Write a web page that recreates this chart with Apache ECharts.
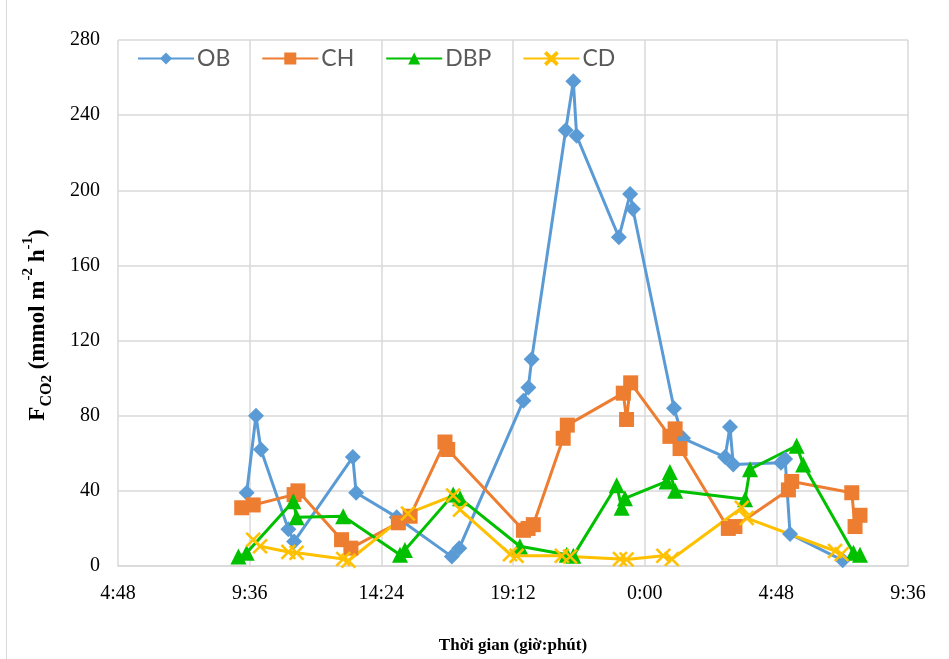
<!DOCTYPE html>
<html>
<head>
<meta charset="utf-8">
<script src="https://cdn.jsdelivr.net/npm/echarts@6/dist/echarts.min.js"></script>
<style>
  html, body { margin: 0; padding: 0; background: #fff; }
  #chart { width: 949px; height: 659px; }
</style>
</head>
<body>
<div id="chart"></div>
<script>
// Time in hours from midnight of day 1 (values > 24 are next day)
const obTime  = [9.49, 9.83, 10.01, 11.01, 11.22, 13.36, 13.48, 14.96, 16.97, 17.24, 19.58, 19.76, 19.88, 21.12, 21.40, 21.52, 23.06, 23.47, 23.57, 25.07, 25.40, 26.93, 27.11, 27.23, 28.97, 29.12, 29.30, 31.22];
const obValue = [39, 80, 62, 19.5, 13, 58, 39, 26, 5, 9.5, 88, 95, 110, 232, 258, 229, 175, 198, 190, 84, 68, 58, 74, 54, 55, 57, 17, 3];

const chTime  = [9.31, 9.73, 11.22, 11.36, 12.95, 13.29, 15.02, 15.45, 16.72, 16.82, 19.58, 19.75, 19.94, 21.03, 21.18, 23.22, 23.34, 23.49, 24.92, 25.11, 25.29, 27.05, 27.29, 29.24, 29.36, 31.55, 31.67, 31.85];
const chValue = [31, 32.5, 38, 40, 14, 9.5, 23, 26.5, 66, 62, 19, 20, 22, 68, 75, 92, 78, 97.5, 69, 73, 62.5, 20, 21, 40.5, 45, 39, 21, 27];

const dbpTime  = [9.19, 9.49, 11.19, 11.31, 13.01, 15.08, 15.26, 17.02, 17.27, 19.45, 21.16, 21.40, 22.98, 23.16, 23.28, 24.80, 24.92, 25.11, 27.66, 27.84, 29.54, 29.78, 31.61, 31.85];
const dbpValue = [5, 7, 34.5, 26, 26.5, 6, 8.5, 38, 36, 10.5, 6, 5.4, 43, 31, 36, 45, 50, 40, 35.5, 51.5, 64, 54, 7, 6];

const cdTime  = [9.73, 9.98, 11.01, 11.31, 13.01, 13.20, 15.37, 17.02, 17.27, 19.09, 19.33, 20.98, 21.28, 23.10, 23.34, 24.68, 24.99, 27.54, 27.72, 30.94, 31.18];
const cdValue = [14, 10.5, 7.5, 7, 3.7, 2.8, 28, 37.5, 30, 6.3, 5.4, 5.4, 5, 3.7, 3.5, 5.4, 3.7, 31, 25.5, 8, 6.3];

const seriesNames = ['OB', 'CH', 'DBP', 'CD'];
const xTickMinutes = { min: 288, max: 2016, step: 288 };
const yTicks = { min: 0, max: 280, step: 40 };

function pairs(t, v) { return t.map((h, i) => [h * 60, v[i]]); }
function fmtTime(m) {
  const mm = Math.round(m);
  const h = Math.floor(mm / 60) % 24;
  const mi = mm % 60;
  return h + ':' + (mi < 10 ? '0' : '') + mi;
}

const crossPath = 'path://M0,1 L1,0 L5,4 L9,0 L10,1 L6,5 L10,9 L9,10 L5,6 L1,10 L0,9 L4,5 Z';
const serif = '"Liberation Serif", "Times New Roman", serif';

const chart = echarts.init(document.getElementById('chart'), null, { renderer: 'canvas' });

function lineSeries(name, data, color, symbol, size) {
  return {
    name, type: 'line', data,
    symbol, symbolSize: size,
    showAllSymbol: true,
    lineStyle: { color, width: 3 },
    itemStyle: { color, borderColor: color, borderWidth: symbol === crossPath ? 0.6 : 0 },
    emphasis: { disabled: true },
    animation: false
  };
}

chart.setOption({
  backgroundColor: '#ffffff',
  animation: false,
  graphic: [{
    type: 'line', shape: { x1: 6.5, y1: 0, x2: 6.5, y2: 659 },
    style: { stroke: '#d9d9d9', lineWidth: 1 }
  }],
  grid: { left: 118, right: 41, top: 40, bottom: 87, containLabel: false },
  legend: {
    data: seriesNames,
    left: 132, top: 42,
    itemWidth: 56, itemHeight: 15, itemGap: 31,
    textStyle: { fontFamily: 'Lato, "Open Sans", sans-serif', fontSize: 23, color: '#595959', padding: [0, 0, 0, -2] }
  },
  xAxis: {
    type: 'value',
    min: xTickMinutes.min, max: xTickMinutes.max, interval: xTickMinutes.step,
    axisLine: { show: true, lineStyle: { color: '#d9d9d9', width: 1.5 } },
    axisTick: { show: false },
    splitLine: { show: true, lineStyle: { color: '#d9d9d9', width: 1.5 } },
    axisLabel: {
      formatter: v => fmtTime(v),
      fontFamily: serif, fontSize: 20, color: '#000', margin: 18
    },
    name: 'Thời gian (giờ:phút)',
    nameLocation: 'middle', nameGap: 71,
    nameTextStyle: { fontFamily: serif, fontSize: 17, fontWeight: 'bold', color: '#000' }
  },
  yAxis: {
    type: 'value',
    min: yTicks.min, max: yTicks.max, interval: yTicks.step,
    axisLine: { show: false },
    axisTick: { show: false },
    splitLine: { show: true, lineStyle: { color: '#d9d9d9', width: 1.5 } },
    axisLabel: { fontFamily: serif, fontSize: 20, color: '#000', margin: 18 },
    name: '{b|F}{sub|CO}{sub2|2}{b| (mmol m}{sup|-2}{b| h}{sup|-1}{b|)}',
    nameLocation: 'middle', nameGap: 63, nameRotate: 90,
    nameTextStyle: {
      padding: [0, 44, 0, 0],
      rich: {
        b: { fontFamily: serif, fontSize: 23, fontWeight: 'bold', color: '#000', lineHeight: 34, verticalAlign: 'middle' },
        sub: { fontFamily: serif, fontSize: 16, fontWeight: 'bold', color: '#000', lineHeight: 16, verticalAlign: 'bottom' },
        sub2: { fontFamily: serif, fontSize: 15, fontWeight: 'bold', color: '#000', lineHeight: 14, verticalAlign: 'bottom' },
        sup: { fontFamily: serif, fontSize: 15, fontWeight: 'bold', color: '#000', lineHeight: 16, verticalAlign: 'top' }
      }
    }
  },
  series: [
    lineSeries('OB', pairs(obTime, obValue), '#5B9BD5', 'diamond', 16),
    lineSeries('CH', pairs(chTime, chValue), '#ED7D31', 'rect', 15),
    lineSeries('DBP', pairs(dbpTime, dbpValue), '#00C000', 'triangle', 16),
    lineSeries('CD', pairs(cdTime, cdValue), '#FFC000', crossPath, 15)
  ]
});
</script>
</body>
</html>
